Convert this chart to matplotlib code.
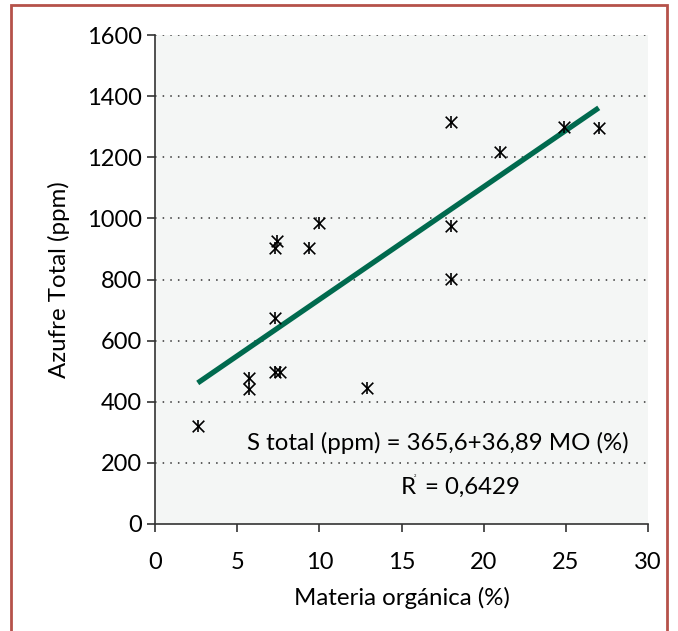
import matplotlib
matplotlib.use("Agg")
import matplotlib.pyplot as plt
from matplotlib.patches import Rectangle
import numpy as np

# datos
materia_organica = [2.6, 5.7, 5.7, 7.3, 7.6, 7.3, 7.4, 7.3, 9.4, 10.0, 12.9,
                    18.0, 21.0, 24.9, 27.0, 18.0, 18.0]
azufre_total = [321, 479, 442, 496, 496, 673, 927, 902, 902, 986, 444,
                1314, 1216, 1298, 1297, 976, 802]
intercepto = 365.6
pendiente = 36.89
yticks = [0, 200, 400, 600, 800, 1000, 1200, 1400, 1600]
xticks = [0, 5, 10, 15, 20, 25, 30]

plt.rcParams["font.family"] = ["Lato", "DejaVu Sans"]
FS = 17.3

fig = plt.figure(figsize=(6.78, 6.31), dpi=100)
ax = fig.add_axes([0.2286, 0.1696, 0.7272, 0.7749])
ax.set_facecolor("#f4f6f5")

# marco rojo alrededor
fig.patches.append(Rectangle((11 / 678, -0.05), 656 / 678, 1 - 5 / 631 + 0.05,
                             transform=fig.transFigure, fill=False,
                             edgecolor="#b5524a", linewidth=2))

for yv in yticks[1:]:
    ax.axhline(yv, color="#333333", linestyle=(0, (1, 4)), linewidth=1.1, zorder=1)

ax.scatter(materia_organica, azufre_total, marker="x", s=70, color="black",
           linewidths=1.2, zorder=3)
ax.scatter(materia_organica, azufre_total, marker="|", s=70, color="black",
           linewidths=1.2, zorder=3)

xl = np.array([min(materia_organica), max(materia_organica)])
ax.plot(xl, intercepto + pendiente * xl, color="#006a4e", linewidth=3.8,
        solid_capstyle="butt", zorder=2)

ax.set_xlim(0, 30)
ax.set_ylim(0, 1600)
ax.set_xticks(xticks)
ax.set_yticks(yticks)
ax.tick_params(axis="both", labelsize=17, direction="out", length=6,
               width=1.2, color="#333333")
ax.tick_params(axis="x", pad=14)
for s in ["top", "right"]:
    ax.spines[s].set_visible(False)
for s in ["left", "bottom"]:
    ax.spines[s].set_color("#333333")
    ax.spines[s].set_linewidth(1.2)

ax.set_xlabel("Materia orgánica (%)", fontsize=FS, labelpad=10)
ax.set_ylabel("Azufre Total (ppm)", fontsize=FS, labelpad=12)

ax.text(17.2, 265, "S total (ppm) = 365,6+36,89 MO (%)", fontsize=FS,
        ha="center", va="center")
ax.text(14.97, 121, "R", fontsize=FS, ha="left", va="center")
ax.text(15.75, 158, "2", fontsize=3, ha="left", va="center")
ax.text(16.43, 121, "= 0,6429", fontsize=FS, ha="left", va="center")

fig.savefig("out.png", dpi=100)
